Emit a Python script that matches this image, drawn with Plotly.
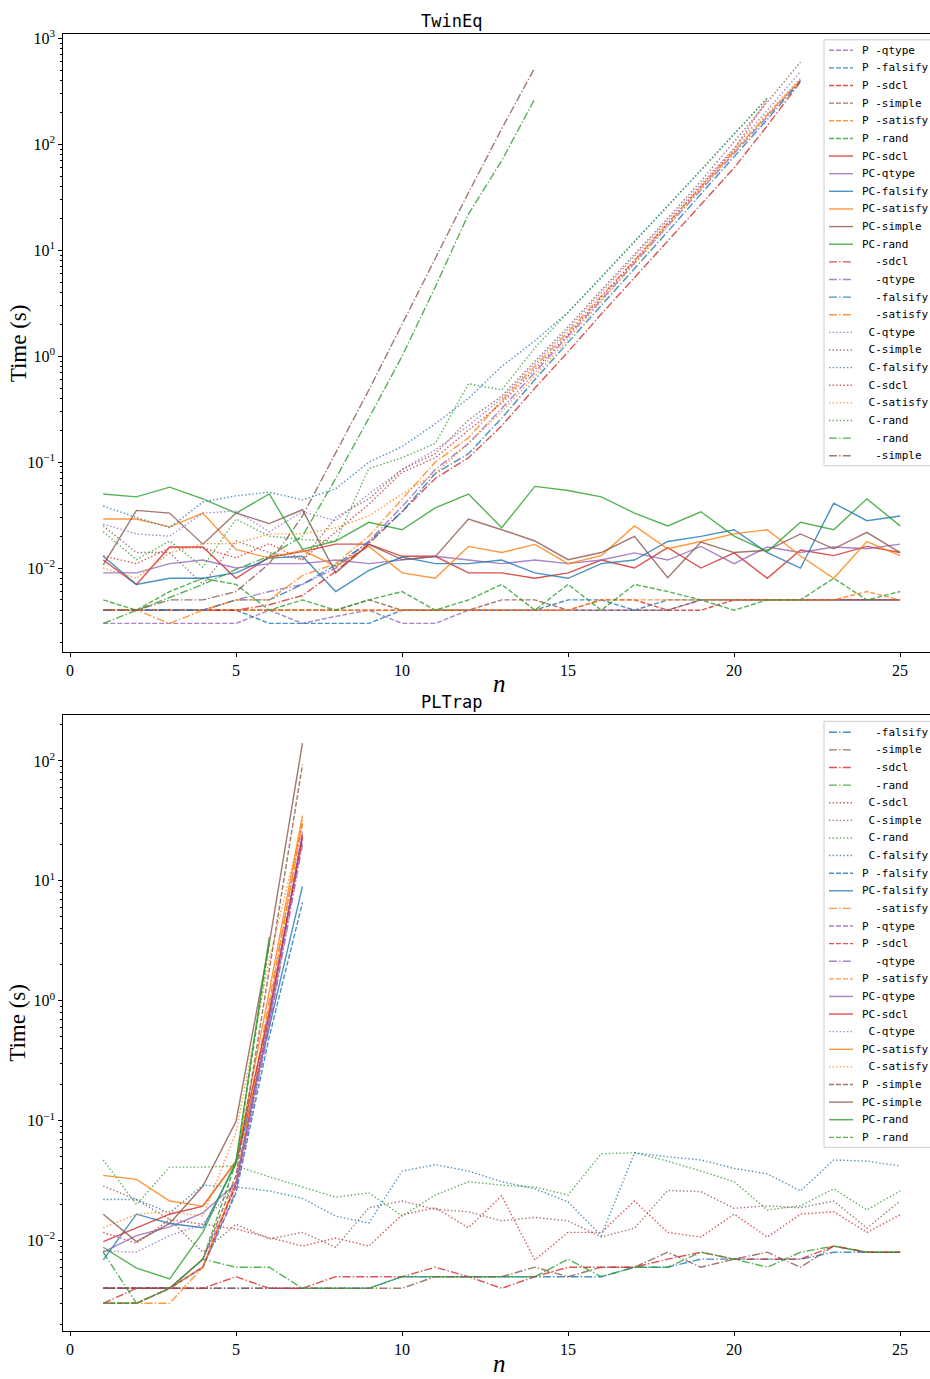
import plotly.graph_objects as go

# ---------------- data: TwinEq (top) ----------------
tw_P_qtype   = [0.003,0.003,0.003,0.003,0.003,0.004,0.003,0.0035,0.004,0.003,0.003,0.004,0.004,0.004,0.004,0.004,0.004,0.004,0.005,0.005,0.005,0.005,0.005,0.005,0.005]
tw_P_falsify = [0.004,0.004,0.004,0.004,0.004,0.003,0.003,0.003,0.003,0.004,0.004,0.004,0.004,0.004,0.005,0.005,0.004,0.005,0.005,0.005,0.005,0.005,0.005,0.005,0.005]
tw_P_sdcl    = [0.004,0.004,0.004,0.004,0.004,0.004,0.004,0.004,0.004,0.004,0.004,0.004,0.004,0.004,0.004,0.005,0.005,0.004,0.004,0.005,0.005,0.005,0.005,0.005,0.005]
tw_P_simple  = [0.004,0.004,0.004,0.004,0.004,0.004,0.004,0.004,0.005,0.004,0.004,0.004,0.005,0.005,0.004,0.004,0.004,0.004,0.005,0.005,0.005,0.005,0.005,0.005,0.005]
tw_P_satisfy = [0.004,0.004,0.004,0.004,0.004,0.004,0.004,0.004,0.004,0.004,0.004,0.004,0.004,0.004,0.004,0.005,0.005,0.005,0.005,0.005,0.005,0.005,0.005,0.006,0.005]
tw_P_rand    = [0.005,0.004,0.006,0.008,0.007,0.004,0.005,0.004,0.005,0.006,0.004,0.005,0.007,0.004,0.007,0.004,0.007,0.006,0.005,0.004,0.005,0.005,0.008,0.005,0.006]
tw_PC_sdcl    = [0.0119,0.007,0.0158,0.0158,0.008,0.0127,0.0143,0.0168,0.0168,0.0129,0.0129,0.009,0.009,0.008,0.009,0.0119,0.010,0.0156,0.010,0.0139,0.008,0.0148,0.0131,0.016,0.014]
tw_PC_qtype   = [0.009,0.009,0.011,0.0119,0.010,0.011,0.011,0.0119,0.011,0.0119,0.0129,0.0119,0.011,0.0119,0.011,0.0119,0.0139,0.0119,0.016,0.011,0.0158,0.014,0.0158,0.0152,0.0168]
tw_PC_falsify = [0.0129,0.007,0.008,0.008,0.009,0.0124,0.0129,0.006,0.0095,0.0127,0.011,0.011,0.0119,0.009,0.008,0.011,0.0119,0.0178,0.0199,0.023,0.014,0.010,0.041,0.028,0.031]
tw_PC_satisfy = [0.029,0.029,0.0245,0.033,0.015,0.0124,0.0147,0.0104,0.016,0.009,0.008,0.016,0.014,0.0167,0.011,0.0131,0.025,0.0152,0.0178,0.021,0.023,0.013,0.008,0.0178,0.0131]
tw_PC_simple  = [0.0107,0.035,0.033,0.0168,0.033,0.0263,0.0355,0.009,0.0167,0.012,0.0128,0.029,0.023,0.018,0.012,0.014,0.0199,0.0081,0.0176,0.014,0.0147,0.021,0.0152,0.0217,0.014]
tw_PC_rand    = [0.05,0.047,0.058,0.045,0.033,0.05,0.015,0.018,0.027,0.023,0.037,0.05,0.024,0.059,0.054,0.047,0.033,0.025,0.034,0.020,0.0143,0.027,0.023,0.045,0.025]
tw_M_sdcl    = [0.004,0.004,0.004,0.004,0.004,0.0045,0.0055,0.0093,0.017,0.034,0.07,0.11,0.22,0.5,1.1,2.5,5.5,12,27,60,150,390]
tw_M_qtype   = [0.004,0.004,0.004,0.004,0.005,0.006,0.007,0.01,0.018,0.038,0.085,0.15,0.32,0.7,1.55,3.4,7.6,17,37,82,182,405]
tw_M_falsify = [0.004,0.004,0.004,0.004,0.005,0.005,0.007,0.0107,0.0176,0.034,0.078,0.12,0.26,0.6,1.35,3.0,6.8,15,34,76,172,395]
tw_M_satisfy = [0.004,0.004,0.003,0.004,0.005,0.005,0.0085,0.011,0.02,0.045,0.1,0.17,0.38,0.8,1.7,3.7,8,18,39,86,190,405]
tw_C_qtype   = [0.026,0.021,0.02,0.033,0.0345,0.022,0.034,0.028,0.05,0.085,0.13,0.22,0.4,0.85,1.8,4,8.8,19,42,92,210,485]
tw_C_simple  = [0.025,0.014,0.014,0.007,0.018,0.014,0.012,0.03,0.045,0.085,0.12,0.25,0.42,0.9,1.9,4.2,9.2,20,45,105,250,600]
tw_C_falsify = [0.0385,0.03,0.024,0.042,0.048,0.052,0.044,0.056,0.1,0.14,0.23,0.4,0.8,1.4,2.6,5.5,12,26,57,125,273]
tw_C_sdcl    = [0.013,0.011,0.0155,0.0155,0.0125,0.017,0.012,0.022,0.04,0.08,0.11,0.2,0.36,0.75,1.6,3.6,8,18,40,90,265]
tw_C_satisfy = [0.01,0.008,0.0139,0.017,0.017,0.021,0.021,0.024,0.031,0.05,0.078,0.15,0.3,0.65,1.45,3.3,7.4,17,38,85,195,420]
tw_C_rand    = [0.022,0.012,0.018,0.0102,0.029,0.02,0.0186,0.0178,0.087,0.11,0.15,0.55,0.48,1.2,2.6,5.6,12,26,57,125,273]
tw_M_rand    = [0.003,0.004,0.0053,0.007,0.0097,0.013,0.02,0.07,0.26,1.0,4.5,22,70,270]
tw_M_simple  = [0.004,0.004,0.005,0.005,0.006,0.011,0.031,0.12,0.48,2.0,8.5,35,140,530]

# ---------------- data: PLTrap (bottom) ----------------
pl_M_falsify = [0.004,0.004,0.004,0.004,0.004,0.004,0.004,0.004,0.004,0.005,0.005,0.005,0.005,0.005,0.005,0.005,0.006,0.006,0.007,0.007,0.007,0.007,0.008,0.008,0.008]
pl_M_simple  = [0.004,0.004,0.004,0.004,0.004,0.004,0.004,0.004,0.004,0.004,0.005,0.005,0.005,0.006,0.005,0.006,0.006,0.008,0.006,0.007,0.008,0.006,0.009,0.008,0.008]
pl_M_sdcl    = [0.003,0.004,0.004,0.004,0.005,0.004,0.004,0.005,0.005,0.005,0.006,0.005,0.004,0.005,0.006,0.006,0.006,0.007,0.008,0.007,0.007,0.007,0.009,0.008,0.008]
pl_M_rand    = [0.008,0.003,0.004,0.007,0.006,0.006,0.004,0.004,0.004,0.005,0.005,0.005,0.005,0.005,0.007,0.005,0.006,0.006,0.008,0.007,0.006,0.008,0.009,0.008,0.008]
pl_C_sdcl    = [0.0117,0.0095,0.015,0.0137,0.0125,0.0106,0.009,0.0105,0.009,0.0164,0.0188,0.0128,0.0236,0.0069,0.0117,0.0117,0.0214,0.0117,0.0107,0.0166,0.0107,0.0166,0.0174,0.0117,0.0164]
pl_C_simple  = [0.0285,0.022,0.015,0.008,0.0137,0.0103,0.0117,0.0088,0.0188,0.0214,0.0182,0.0174,0.0146,0.0156,0.0146,0.0107,0.0127,0.0262,0.0256,0.0186,0.0195,0.0188,0.0214,0.0127,0.0214]
pl_C_rand    = [0.047,0.02,0.041,0.041,0.042,0.034,0.028,0.023,0.025,0.016,0.024,0.031,0.029,0.028,0.024,0.053,0.054,0.046,0.038,0.031,0.018,0.0195,0.027,0.018,0.026]
pl_C_falsify = [0.022,0.022,0.017,0.029,0.028,0.026,0.0225,0.016,0.014,0.038,0.043,0.038,0.031,0.027,0.021,0.011,0.054,0.050,0.047,0.040,0.036,0.026,0.047,0.046,0.042]
pl_P_falsify  = [0.004,0.004,0.004,0.006,0.025,0.5,6.6]
pl_PC_falsify = [0.0069,0.0166,0.0139,0.0128,0.044,0.6,9.0]
pl_M_satisfy  = [0.003,0.003,0.003,0.006,0.03,1.0,30]
pl_P_qtype    = [0.003,0.003,0.004,0.007,0.028,0.65,22]
pl_P_sdcl     = [0.004,0.004,0.004,0.006,0.03,0.75,24]
pl_M_qtype    = [0.003,0.003,0.004,0.006,0.026,0.6,20]
pl_P_satisfy  = [0.003,0.003,0.004,0.006,0.032,0.9,32]
pl_PC_qtype   = [0.008,0.011,0.013,0.017,0.03,0.7,25]
pl_PC_sdcl    = [0.0098,0.0128,0.0166,0.0194,0.046,0.8,23]
pl_C_qtype    = [0.0082,0.008,0.011,0.0137,0.03,0.8,26]
pl_PC_satisfy = [0.035,0.0324,0.0214,0.0194,0.046,1.2,35]
pl_C_satisfy  = [0.0128,0.0166,0.0175,0.016,0.08,2.2,30]
pl_P_simple   = [0.004,0.004,0.004,0.007,0.035,1.8,93]
pl_PC_simple  = [0.0166,0.0098,0.0139,0.0284,0.099,3.0,141]
pl_PC_rand    = [0.0088,0.0059,0.0048,0.0117,0.046,3.4]
pl_P_rand     = [0.003,0.003,0.004,0.007,0.045,3.0]

x_ticks = [0, 5, 10, 15, 20, 25]
y_ticks_top = [1e-2, 1e-1, 1, 10, 100, 1000]
y_text_top = ["10<sup>−2</sup>", "10<sup>−1</sup>", "10<sup>0</sup>", "10<sup>1</sup>", "10<sup>2</sup>", "10<sup>3</sup>"]
y_ticks_bot = [1e-2, 1e-1, 1, 10, 100]
y_text_bot = ["10<sup>−2</sup>", "10<sup>−1</sup>", "10<sup>0</sup>", "10<sup>1</sup>", "10<sup>2</sup>"]

COL = {"sdcl": "#d62728", "qtype": "#9467bd", "falsify": "#1f77b4",
       "satisfy": "#ff7f0e", "simple": "#8c564b", "rand": "#2ca02c"}
DASH = {"P": "5px,2px", "PC": "solid", "M": "8px,2.2px,1.4px,2.2px", "C": "1.4px,2.2px"}
LABEL = {"P": "P -", "PC": "PC-", "M": "\u00a0\u00a0-", "C": "\u00a0C-"}

top_series = [
    ("P", "qtype", tw_P_qtype), ("P", "falsify", tw_P_falsify), ("P", "sdcl", tw_P_sdcl),
    ("P", "simple", tw_P_simple), ("P", "satisfy", tw_P_satisfy), ("P", "rand", tw_P_rand),
    ("PC", "sdcl", tw_PC_sdcl), ("PC", "qtype", tw_PC_qtype), ("PC", "falsify", tw_PC_falsify),
    ("PC", "satisfy", tw_PC_satisfy), ("PC", "simple", tw_PC_simple), ("PC", "rand", tw_PC_rand),
    ("M", "sdcl", tw_M_sdcl), ("M", "qtype", tw_M_qtype), ("M", "falsify", tw_M_falsify),
    ("M", "satisfy", tw_M_satisfy), ("C", "qtype", tw_C_qtype), ("C", "simple", tw_C_simple),
    ("C", "falsify", tw_C_falsify), ("C", "sdcl", tw_C_sdcl), ("C", "satisfy", tw_C_satisfy),
    ("C", "rand", tw_C_rand), ("M", "rand", tw_M_rand), ("M", "simple", tw_M_simple),
]
bot_series = [
    ("M", "falsify", pl_M_falsify), ("M", "simple", pl_M_simple), ("M", "sdcl", pl_M_sdcl),
    ("M", "rand", pl_M_rand), ("C", "sdcl", pl_C_sdcl), ("C", "simple", pl_C_simple),
    ("C", "rand", pl_C_rand), ("C", "falsify", pl_C_falsify), ("P", "falsify", pl_P_falsify),
    ("PC", "falsify", pl_PC_falsify), ("M", "satisfy", pl_M_satisfy), ("P", "qtype", pl_P_qtype),
    ("P", "sdcl", pl_P_sdcl), ("M", "qtype", pl_M_qtype), ("P", "satisfy", pl_P_satisfy),
    ("PC", "qtype", pl_PC_qtype), ("PC", "sdcl", pl_PC_sdcl), ("C", "qtype", pl_C_qtype),
    ("PC", "satisfy", pl_PC_satisfy), ("C", "satisfy", pl_C_satisfy), ("P", "simple", pl_P_simple),
    ("PC", "simple", pl_PC_simple), ("PC", "rand", pl_PC_rand), ("P", "rand", pl_P_rand),
]

W, H = 930, 1379
LW, OP = 1.4, 0.8
fig = go.Figure()

def add(series, xa, ya):
    for kind, name, vals in series:
        fig.add_trace(go.Scatter(
            x=list(range(1, len(vals) + 1)), y=vals, mode="lines",
            name=LABEL[kind] + name, xaxis=xa, yaxis=ya, showlegend=False,
            opacity=OP, line=dict(color=COL[name], width=LW, dash=DASH[kind]),
        ))

add(top_series, "x", "y")
add(bot_series, "x2", "y2")

def minors(lo, hi):
    out = []
    for e in range(lo, hi):
        for m in range(2, 10):
            out.append(m * 10 ** e)
    return out

serif = "Liberation Serif"
mono = "DejaVu Sans Mono"
ax_common = dict(showline=True, linecolor="black", linewidth=1,
                 showgrid=False, zeroline=False, ticks="outside", ticklen=4,
                 tickcolor="black", tickfont=dict(family=serif, size=16, color="black"))

xd = [63.4 / W, 1.0]
fig.update_layout(
    width=W, height=H, margin=dict(l=0, r=0, t=0, b=0),
    paper_bgcolor="white", plot_bgcolor="white", showlegend=False,
    xaxis=dict(domain=xd, range=[-0.2, 25.9], tickvals=x_ticks, anchor="y", mirror=True, **ax_common),
    yaxis=dict(domain=[1 - 648 / H, 1 - 27 / H], type="log", range=[-2.79, 3.043],
               tickvals=y_ticks_top, ticktext=y_text_top, anchor="x",
               minor=dict(tickvals=minors(-3, 3), ticks="outside", ticklen=2, tickcolor="black"),
               **ax_common),
    xaxis2=dict(domain=xd, range=[-0.2, 25.9], tickvals=x_ticks, anchor="y2", mirror=True, **ax_common),
    yaxis2=dict(domain=[1 - 1331 / H, 1 - 712 / H], type="log", range=[-2.756, 2.38],
                tickvals=y_ticks_bot, ticktext=y_text_bot, anchor="x2",
                minor=dict(tickvals=minors(-3, 3), ticks="outside", ticklen=2, tickcolor="black"),
                **ax_common),
)

def px(x): return x / W
def py(y): return 1 - y / H

# legend boxes drawn in figure pixel space (matplotlib-like spacing)
def legend(series, top, first, step):
    n = len(series)
    fig.add_shape(type="rect", xref="paper", yref="paper", layer="above",
                  x0=px(824), x1=px(940), y0=py(top), y1=py(first + (n - 1) * step + 10),
                  fillcolor="rgba(255,255,255,0.85)", line=dict(color="#cccccc", width=1))
    for i, (kind, name, _) in enumerate(series):
        yy = first + i * step
        fig.add_shape(type="line", xref="paper", yref="paper", layer="above",
                      x0=px(829), x1=px(853), y0=py(yy), y1=py(yy), opacity=OP,
                      line=dict(color=COL[name], width=LW, dash=DASH[kind]))
        fig.add_annotation(xref="paper", yref="paper", showarrow=False,
                           x=px(861), y=py(yy), xanchor="left", yanchor="middle",
                           text=LABEL[kind] + name, borderpad=0,
                           font=dict(family=mono, size=11, color="black"))

legend(top_series, 33, 43.5, 17.72)
legend(bot_series, 718, 729, 17.7)

ann = [
    dict(text="TwinEq", x=451 / W, y=1 - 14 / H, font=dict(family=mono, size=17, color="black")),
    dict(text="PLTrap", x=451 / W, y=1 - 699 / H, font=dict(family=mono, size=17, color="black")),
    dict(text="Time (s)", x=18 / W, y=1 - 338 / H, textangle=-90, font=dict(family=serif, size=23, color="black")),
    dict(text="Time (s)", x=18 / W, y=1 - 1021 / H, textangle=-90, font=dict(family=serif, size=23, color="black")),
    dict(text="<i>n</i>", x=500 / W, y=1 - 680 / H, font=dict(family=serif, size=25, color="black")),
    dict(text="<i>n</i>", x=500 / W, y=1 - 1363 / H, font=dict(family=serif, size=25, color="black")),
]
for a in ann:
    fig.add_annotation(xref="paper", yref="paper", showarrow=False,
                       xanchor="center", yanchor="middle", **a)

fig.write_html("out.html", config={"displayModeBar": False},
               post_script="document.body.style.margin='0px';document.body.style.overflow='hidden';")
